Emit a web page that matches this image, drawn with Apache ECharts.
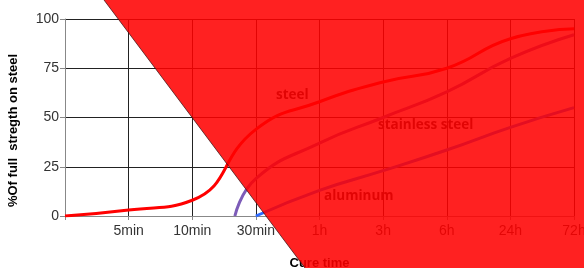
<!DOCTYPE html>
<html>
<head>
<meta charset="utf-8">
<script src="https://cdn.jsdelivr.net/npm/echarts@6/dist/echarts.min.js"></script>
<style>
  html, body { margin: 0; padding: 0; background: #fff; }
  #chart { width: 584px; height: 268px; }
</style>
</head>
<body>
<div id="chart"></div>
<script>
// x positions are category slots: 0 = origin, 1 = 5min ... 8 = 72h
const timeLabels = ["", "5min", "10min", "30min", "1h", "3h", "6h", "24h", "72h"];
const yTicks = [0, 25, 50, 75, 100];

const steel = [[0, 0], [1, 3], [2, 8], [3, 44], [4, 58], [5, 68], [6, 75], [7, 90], [8, 95]];
const stainless = [[2.67, 0], [3, 19], [4, 37], [5, 50], [6, 63], [7, 80], [8, 92]];
const aluminum = [[3, 0], [4, 13], [5, 23], [6, 33.5], [7, 45], [8, 55]];

const chart = echarts.init(document.getElementById("chart"));

function line(name, data, color) {
  return {
    name: name,
    type: "line",
    data: data,
    smooth: true,
    symbol: "none",
    lineStyle: { color: color, width: 3 },
    z: 3
  };
}

chart.setOption({
  animation: false,
  grid: { left: 65, right: 10, top: 19, bottom: 52, containLabel: false, outerBoundsMode: "none" },
  xAxis: {
    type: "value",
    min: 0,
    max: 8,
    interval: 1,
    name: "Cure time",
    nameLocation: "middle",
    nameGap: 41,
    nameTextStyle: { fontFamily: "Liberation Sans", fontWeight: "bold", fontSize: 13, color: "#000" },
    axisLine: { lineStyle: { color: "#888" } },
    axisTick: { show: true, length: 4, lineStyle: { color: "#888" } },
    axisLabel: {
      fontFamily: "Liberation Sans", fontSize: 14, color: "#333", margin: 8,
      formatter: v => timeLabels[v] || ""
    },
    splitLine: { show: true, lineStyle: { color: "#222", width: 1 } }
  },
  yAxis: {
    type: "value",
    min: yTicks[0],
    max: yTicks[yTicks.length - 1],
    interval: 25,
    name: "%Of full  stregth on steel",
    nameLocation: "middle",
    nameGap: 45,
    nameTextStyle: {
      fontFamily: "Liberation Sans", fontWeight: "bold", fontSize: 13, color: "#000",
      padding: [0, 26, 0, 0]
    },
    axisLine: { show: true, lineStyle: { color: "#888" } },
    axisTick: { show: true, length: 5, lineStyle: { color: "#888" } },
    axisLabel: { fontFamily: "Liberation Sans", fontSize: 14, color: "#333", margin: 6 },
    splitLine: { show: true, lineStyle: { color: "#222", width: 1 } }
  },
  series: [
    line("steel", steel, "#ff0000"),
    line("stainless steel", stainless, "#7d5cb8"),
    line("aluminum", aluminum, "#2f6bff")
  ],
  graphic: [
    { type: "text", left: 276, top: 88, z: 50,
      style: { text: "steel", font: "bold 13.5px 'Open Sans'", fill: "#222" } },
    { type: "text", left: 378, top: 118, z: 50,
      style: { text: "stainless steel", font: "bold 13.5px 'Open Sans'", fill: "#222" } },
    { type: "text", left: 324, top: 189, z: 50,
      style: { text: "aluminum", font: "bold 13.5px 'Open Sans'", fill: "#222" } },
    {
      type: "polygon",
      z: 100,
      shape: { points: [[104, 0], [584, 0], [584, 268], [305, 268]] },
      style: { fill: "rgba(255,0,0,0.87)", stroke: "none" }
    },
    {
      type: "line",
      z: 101,
      shape: { x1: 104, y1: 0, x2: 305, y2: 268 },
      style: { stroke: "rgba(70,20,20,0.8)", lineWidth: 1 }
    }
  ]
});
</script>
</body>
</html>
